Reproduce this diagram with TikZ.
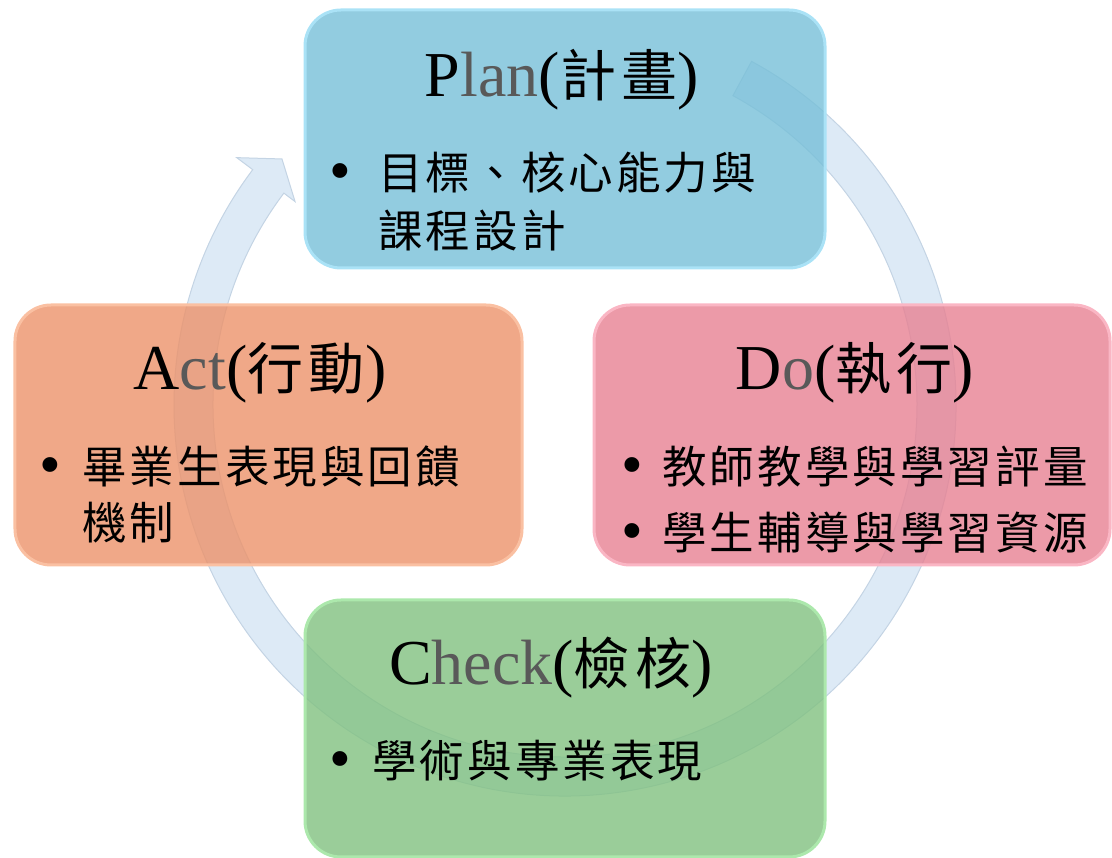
\documentclass[tikz,border=0pt]{standalone}
\usepackage{fontspec}
\setmainfont{Liberation Serif}
\newfontfamily\cjktitle{Noto Sans CJK TC}[LetterSpace=10]
\newfontfamily\cjkbody{Noto Sans CJK TC}[LetterSpace=7]
\definecolor{headgray}{RGB}{89,89,89}
\definecolor{ringfill}{RGB}{221,234,246}
\definecolor{ringline}{RGB}{196,212,228}
\definecolor{planfill}{RGB}{119,191,216}
\definecolor{planrim}{RGB}{170,226,246}
\definecolor{actfill}{RGB}{236,146,106}
\definecolor{actrim}{RGB}{250,192,162}
\definecolor{dofill}{RGB}{231,129,146}
\definecolor{dorim}{RGB}{250,182,196}
\definecolor{checkfill}{RGB}{129,193,128}
\definecolor{checkrim}{RGB}{172,232,172}
\newcommand\pdcahead[3]{#1\textcolor{headgray}{#2}({\cjktitle\fontsize{56bp}{60bp}\selectfont #3})}

\begin{document}
\begin{tikzpicture}[x=1bp,y=1bp,
		box/.style={rounded corners=36bp, line width=3bp, fill opacity=0.8, inner sep=0pt},
		head/.style={anchor=base, inner sep=0pt, font=\fontsize{64bp}{70bp}\selectfont},
		dot/.style={anchor=base, inner sep=0pt, font=\fontsize{62bp}{66bp}\selectfont},
		item/.style={anchor=base west, inner sep=0pt, font=\cjkbody\fontsize{44.5bp}{50bp}\selectfont}]
				\useasboundingbox (0,0) rectangle (1112,858);
				\coordinate (O) at (565,453);
				% ring with arrow head
				\begin{scope}[shift={(O)}]
					\filldraw[fill=ringfill, draw=ringline, line width=1bp]
						(61.5:391bp) arc[start angle=61.5, end angle=-217, radius=391bp]
						-- (-217:411bp) -- (-221:375bp) -- (-217:338bp) -- (-217:352bp)
						arc[start angle=-217, end angle=61.5, radius=352bp] -- cycle;
				\end{scope}
				% boxes
				\node[box, fill=planfill, draw=planrim, minimum width=520bp, minimum height=258bp] (plan) at (565,719) {};
				\node[box, fill=actfill, draw=actrim, minimum width=507bp, minimum height=260bp] (act) at (268.5,423) {};
				\node[box, fill=dofill, draw=dorim, minimum width=516bp, minimum height=260bp] (do) at (852,423) {};
				\node[box, fill=checkfill, draw=checkrim, minimum width=520bp, minimum height=257bp] (check) at (565,129.5) {};
				% titles
				\node[head] (plan-t) at (562,761) {\pdcahead{P}{lan}{計畫}};
				\node[head] (act-t) at (260,468) {\pdcahead{A}{ct}{行動}};
				\node[head] (do-t) at (855,468) {\pdcahead{D}{o}{執行}};
				\node[head] (check-t) at (551,173) {\pdcahead{C}{heck}{檢核}};
				% items
				\node[dot] (plan-d) at (340,666) {\textbullet};
				\node[item] (plan-a) at (378,668) {目標、核心能力與};
				\node[item] (plan-b) at (378,610) {課程設計};
				\node[dot] (act-d) at (50,372) {\textbullet};
				\node[item] (act-a) at (82,374) {畢業生表現與回饋};
				\node[item] (act-b) at (82,318) {機制};
				\node[dot] (do-d1) at (632,372) {\textbullet};
				\node[item] (do-a) at (662,374) {教師教學與學習評量};
				\node[dot] (do-d2) at (632,306) {\textbullet};
				\node[item] (do-b) at (662,308) {學生輔導與學習資源};
				\node[dot] (check-d) at (340,78) {\textbullet};
				\node[item] (check-a) at (372,80) {學術與專業表現};
			\end{tikzpicture}
\end{document}
